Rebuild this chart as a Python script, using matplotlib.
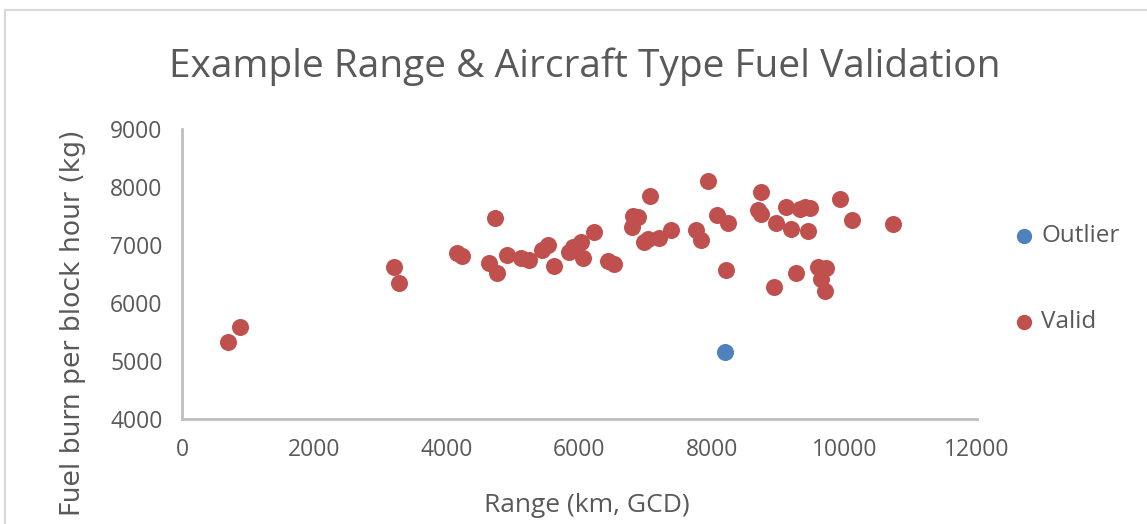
import matplotlib.pyplot as plt
from matplotlib.patches import Rectangle

## Data
outlier_range = [8200]
outlier_fuel = [5150]

valid_range = [691, 877, 3197, 3283, 4155, 4231, 4730, 4636, 4761, 4912,
               5120, 5245, 5441, 5517, 5612, 5845, 5895, 6021, 6047, 6223,
               6425, 6525, 6803, 6879, 6790, 6980, 7030, 7070, 7206, 7383,
               7761, 7837, 7935, 8079, 8235, 8215, 8690, 8744, 8744, 8971,
               8936, 9123, 9198, 9274, 9324, 9400, 9476, 9450, 9602, 9728,
               9652, 9713, 9928, 10115, 10736]
valid_fuel = [5333, 5591, 6616, 6340, 6857, 6810, 7460, 6690, 6510, 6835,
              6770, 6741, 6914, 7000, 6635, 6871, 6971, 7057, 6770, 7229,
              6730, 6665, 7500, 7476, 7316, 7057, 7100, 7845, 7115, 7259,
              7259, 7086, 8095, 7517, 7372, 6569, 7603, 7919, 7530, 7384,
              6270, 7661, 7270, 6512, 7615, 7661, 7632, 7247, 6626, 6598,
              6407, 6212, 7787, 7431, 7356]

x_ticks = [0, 2000, 4000, 6000, 8000, 10000, 12000]
y_ticks = [4000, 5000, 6000, 7000, 8000, 9000]

text_col = '#595959'
axis_col = '#BFBFBF'

fig = plt.figure(figsize=(11.47, 5.24), dpi=100)
ax = fig.add_axes([182/1147, 1 - 419/524, (977-182)/1147, (419-129)/524])

ax.scatter(outlier_range, outlier_fuel, s=150, color='#4F81BD', label='Outlier',
           linewidths=0, zorder=3)
ax.scatter(valid_range, valid_fuel, s=150, color='#C0504D', label='Valid',
           linewidths=0, zorder=3)

ax.set_xlim(0, 12000)
ax.set_ylim(4000, 9000)
ax.set_xticks(x_ticks)
ax.set_yticks(y_ticks)
ax.tick_params(length=0, labelsize=16.5, colors=text_col, pad=14)
for lab in ax.get_xticklabels() + ax.get_yticklabels():
    lab.set_fontfamily('Open Sans')

for side in ['top', 'right']:
    ax.spines[side].set_visible(False)
for side in ['left', 'bottom']:
    ax.spines[side].set_color(axis_col)
    ax.spines[side].set_linewidth(2)

fig.text(585/1147, 1 - 67/524, 'Example Range & Aircraft Type Fuel Validation',
         ha='center', va='center', fontsize=28, color=text_col, family='Open Sans')
fig.text(587/1147, 1 - 505/524, 'Range (km, GCD)', ha='center', va='center',
         fontsize=19, color=text_col, family='Open Sans')
fig.text(73/1147, 1 - 323/524, 'Fuel burn per block hour (kg)', ha='center',
         va='center', rotation=90, fontsize=19.2, color=text_col, family='DejaVu Sans')

leg = ax.legend(loc='center left', bbox_to_anchor=(1012/1147, 1 - 279/524),
                bbox_transform=fig.transFigure, frameon=False, fontsize=17.5,
                labelspacing=2.55, handlelength=1.0, handletextpad=0.2,
                borderpad=0, borderaxespad=0, markerscale=0.9)
for t in leg.get_texts():
    t.set_color(text_col)
    t.set_fontfamily('Open Sans')

# chart frame like the Excel chart area
fig.patches.append(Rectangle((5/1147, -0.1), 1.2, 1 - 10/524 + 0.1,
                             transform=fig.transFigure, fill=False,
                             edgecolor='#D9D9D9', linewidth=1.5))

fig.savefig('out.png', dpi=100)
